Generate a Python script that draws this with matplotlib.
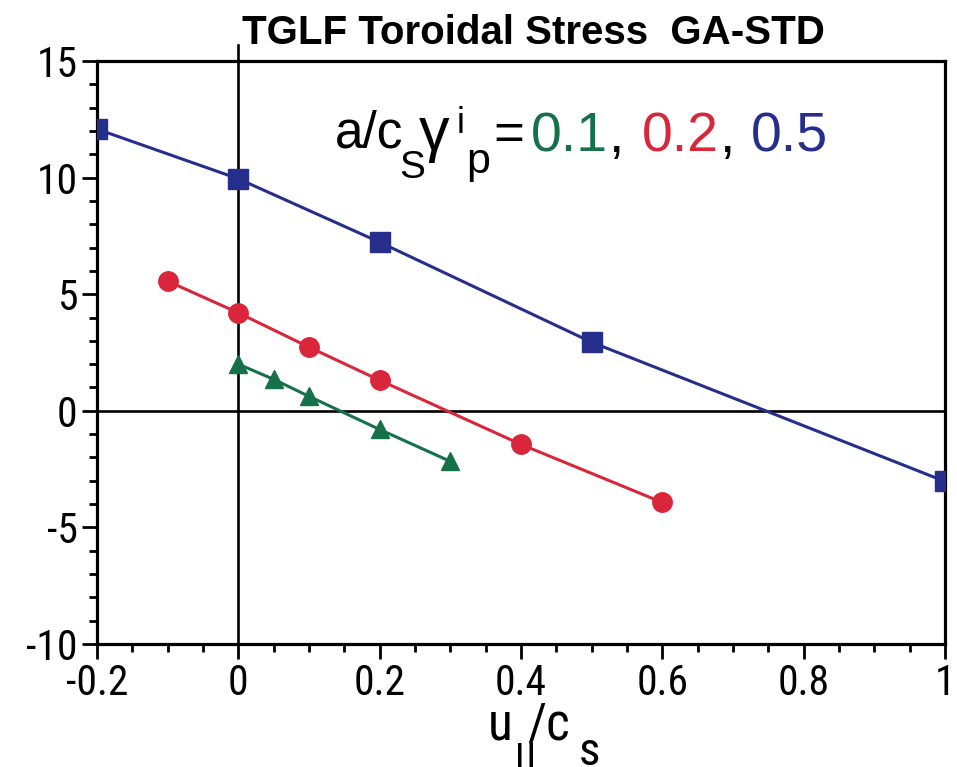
import matplotlib
matplotlib.use("Agg")
import matplotlib.pyplot as plt
from matplotlib.ticker import MultipleLocator

# data
x_blue = [-0.2, 0.0, 0.2, 0.5, 1.0]
y_blue = [12.08, 9.95, 7.23, 2.94, -3.03]
x_red = [-0.1, 0.0, 0.1, 0.2, 0.4, 0.6]
y_red = [5.56, 4.2, 2.73, 1.31, -1.44, -3.93]
x_green = [0.0, 0.05, 0.1, 0.2, 0.3]
y_green = [2.0, 1.35, 0.62, -0.8, -2.17]

x_ticks = [-0.2, 0, 0.2, 0.4, 0.6, 0.8, 1.0]
x_labels = ["-0.2", "0", "0.2", "0.4", "0.6", "0.8", "1"]
y_ticks = [-10, -5, 0, 5, 10, 15]
y_labels = ["-10", "-5", "0", "5", "10", "15"]

c_blue = "#262e8c"
c_red = "#d9263a"
c_green = "#16704a"

W, H = 957, 767
narrow = "Roboto Condensed"
regular = "Liberation Sans"

fig = plt.figure(figsize=(W / 100, H / 100), dpi=100)
ax = fig.add_axes([97 / W, 1 - 644 / H, (945 - 97) / W, (644 - 61) / H])


def ftxt(px, py, s, **kw):
    # text at a reference pixel position (origin top-left)
    fig.text(px / W, 1 - py / H, s, ha="left", va=kw.pop("va", "baseline"), **kw)


ax.axhline(0, color="black", lw=1.9, zorder=1)
ax.axvline(0, ymin=0, ymax=1.028, color="black", lw=1.9, clip_on=False, zorder=1)

ax.plot(x_blue, y_blue, color=c_blue, lw=2.2, marker="s", ms=14, zorder=3)
ax.plot(x_red, y_red, color=c_red, lw=2.2, marker="o", ms=14, zorder=3)
ax.plot(x_green, y_green, color=c_green, lw=2.2, marker="^", ms=13, zorder=3)

ax.set_xlim(-0.2, 1.0)
ax.set_ylim(-10, 15)
ax.set_xticks(x_ticks)
ax.set_xticklabels(x_labels)
ax.set_yticks(y_ticks)
ax.set_yticklabels(y_labels)
ax.xaxis.set_minor_locator(MultipleLocator(0.05))
ax.yaxis.set_minor_locator(MultipleLocator(1))

ax.tick_params(which="both", direction="out", top=False, right=False, width=2.0)
ax.tick_params(which="major", length=11, pad=3, labelsize=30)
ax.tick_params(which="minor", length=6)
for lab in ax.get_xticklabels() + ax.get_yticklabels():
    lab.set_fontfamily(narrow)
for sp in ax.spines.values():
    sp.set_linewidth(2.3)

# title
fig.text(533 / W, 1 - 44 / H, "TGLF Toroidal Stress  GA-STD", ha="center",
         va="baseline", fontsize=29, fontweight="bold", fontfamily=regular)

# annotation  a/c_s gamma^i_p = 0.1, 0.2, 0.5
ftxt(335, 148, "a/c", fontsize=37, fontfamily=regular)
ftxt(399, 178, "S", fontsize=28, fontfamily=regular)
ftxt(419, 150, "γ", fontsize=44, fontfamily=regular)
ftxt(457, 133, "i", fontsize=26, fontfamily=regular)
ftxt(466, 173, "p", fontsize=31, fontfamily=regular)
ftxt(493, 150, "=", fontsize=38, fontfamily=regular)
ftxt(531, 152, "0.1", fontsize=40, fontfamily=regular, color=c_green)
ftxt(608, 152, ",", fontsize=40, fontfamily=regular)
ftxt(642, 152, "0.2", fontsize=40, fontfamily=regular, color=c_red)
ftxt(719, 152, ",", fontsize=40, fontfamily=regular)
ftxt(751, 152, "0.5", fontsize=40, fontfamily=regular, color=c_blue)

# x label  u_||/c_s
ftxt(488, 740, "u", fontsize=37, fontfamily=narrow)
ftxt(514, 741, "||", va="top", fontsize=34, fontfamily=narrow)
ftxt(527, 740, "/c", fontsize=37, fontfamily=narrow)
ftxt(579, 765, "s", fontsize=34, fontfamily=narrow)

fig.savefig("out.png", dpi=100)
